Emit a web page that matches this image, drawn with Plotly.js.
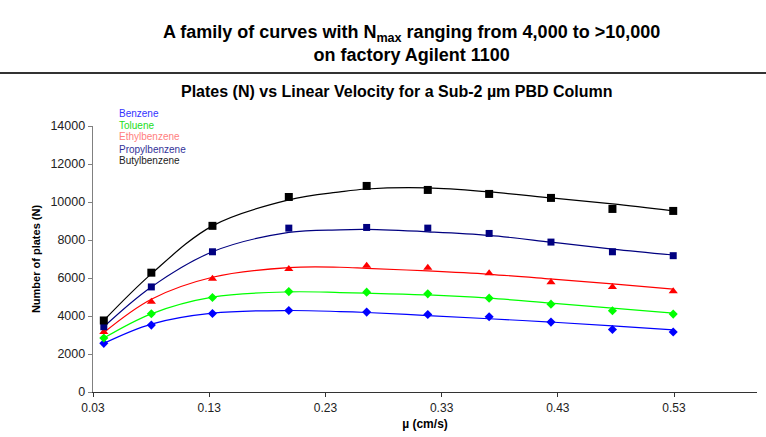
<!DOCTYPE html>
<html>
<head>
<meta charset="utf-8">
<script src="https://cdn.plot.ly/plotly-3.0.1.min.js"></script>
<style>html,body{margin:0;padding:0;background:#fff;}#chart{width:766px;height:437px;}</style>
</head>
<body>
<div id="chart"></div>
<script>
// Linear velocity (cm/s) of the measured points
const velocity = [0.0393, 0.0802, 0.1328, 0.1985, 0.2655, 0.3181, 0.3709, 0.4241, 0.4770, 0.5293];
// Measured plate numbers
const benzene      = [2560, 3520, 4130, 4290, 4205, 4080, 3960, 3680, 3290, 3160];
const toluene      = [2840, 4115, 4970, 5285, 5255, 5165, 4940, 4625, 4275, 4100];
const ethylbenzene = [3155, 4745, 5965, 6475, 6650, 6545, 6250, 5780, 5530, 5305];
const propylbenzene= [3435, 5530, 7380, 8625, 8660, 8625, 8345, 7890, 7380, 7175];
const butylbenzene = [3765, 6280, 8745, 10265, 10845, 10635, 10425, 10215, 9635, 9530];

// Fitted curves
const fitVelocity   = [0.0393, 0.0802, 0.1328, 0.1985, 0.2425, 0.2655, 0.3181, 0.3709, 0.4241, 0.4770, 0.5293];
const benzeneFit    = [2560, 3575, 4150, 4290, 4235, 4185, 4025, 3855, 3680, 3485, 3275];
const tolueneFit    = [2840, 4115, 4990, 5270, 5235, 5200, 5110, 4940, 4675, 4415, 4150];
const ethylFit      = [3130, 4885, 6040, 6545, 6565, 6510, 6370, 6195, 5950, 5690, 5410];
const propylFit     = [3435, 5530, 7380, 8400, 8535, 8555, 8430, 8240, 7890, 7525, 7210];
const butylFit      = [3765, 6215, 8745, 10110, 10530, 10685, 10740, 10530, 10215, 9900, 9530];

const seriesNames = ['Benzene', 'Toluene', 'Ethylbenzene', 'Propylbenzene', 'Butylbenzene'];
const xTickVals = [0.03, 0.13, 0.23, 0.33, 0.43, 0.53];
const xTickText = ['0.03', '0.13', '0.23', '0.33', '0.43', '0.53'];
const yTickVals = [0, 2000, 4000, 6000, 8000, 10000, 12000, 14000];
const yTickText = ['0', '2000', '4000', '6000', '8000', '10000', '12000', '14000'];

const measured = [benzene, toluene, ethylbenzene, propylbenzene, butylbenzene];
const fits = [benzeneFit, tolueneFit, ethylFit, propylFit, butylFit];
const lineColors = ['#0000ff', '#00ff00', '#ff0000', '#000080', '#000000'];
const markerSymbols = ['diamond', 'diamond', 'triangle-up', 'square', 'square'];
const markerSizes = [7, 7, 8, 7, 8];
const legendColors = ['#3333ff', '#22dd22', '#ff8080', '#333399', '#222222'];

const traces = [];
for (let i = 0; i < 5; i++) {
  traces.push({
    x: fitVelocity, y: fits[i], type: 'scatter', mode: 'lines',
    line: {color: lineColors[i], width: 1.2, shape: 'spline', smoothing: 1},
    showlegend: false, hoverinfo: 'skip'
  });
}
for (let i = 0; i < 5; i++) {
  traces.push({
    x: velocity, y: measured[i], type: 'scatter', mode: 'markers', name: seriesNames[i],
    marker: {color: lineColors[i], symbol: markerSymbols[i], size: markerSizes[i], line: {width: 0}},
    showlegend: false
  });
}

const L = 93, R = 9, T = 126, B = 45, W = 766, H = 437;
const pw = W - L - R, ph = H - T - B;
const px = v => (v - L) / pw;
const py = v => (H - B - v) / ph;
const FAM = 'Liberation Sans, Arial, sans-serif';

const annotations = [
  {text: 'A family of curves with N<sub>max</sub> ranging from 4,000 to >10,000<br>on factory Agilent 1100',
   x: px(411), y: py(43), xref: 'paper', yref: 'paper', xanchor: 'center', yanchor: 'middle', align: 'center',
   showarrow: false, font: {family: FAM, size: 18, color: '#000', weight: 'bold'}},
  {text: 'Plates (N) vs Linear Velocity for a Sub-2 µm PBD Column', x: px(397), y: py(92),
   xref: 'paper', yref: 'paper', xanchor: 'center', yanchor: 'middle', showarrow: false,
   font: {family: FAM, size: 16, color: '#000', weight: 'bold'}}
];
const legendY = [113.3, 125, 136.7, 149, 160];
for (let i = 0; i < 5; i++) {
  annotations.push({text: seriesNames[i], x: px(117), y: py(legendY[i]), xref: 'paper', yref: 'paper',
    xanchor: 'left', yanchor: 'middle', showarrow: false,
    font: {family: FAM, size: 10, color: legendColors[i]}});
}

const layout = {
  width: W, height: H,
  margin: {l: L, r: R, t: T, b: B, pad: 0},
  paper_bgcolor: '#fff', plot_bgcolor: '#fff',
  showlegend: false,
  font: {family: FAM, size: 12, color: '#222'},
  xaxis: {
    range: [0.03, 0.6014], tickvals: xTickVals, ticktext: xTickText,
    showgrid: false, zeroline: false, showline: true, linecolor: '#333', linewidth: 1.3,
    ticks: 'outside', ticklen: 4, tickcolor: '#333', tickfont: {family: FAM, size: 12, color: '#222'},
    title: {text: 'µ (cm/s)', standoff: 6, font: {family: FAM, size: 12, color: '#000', weight: 'bold'}}
  },
  yaxis: {
    range: [0, 14000], tickvals: yTickVals, ticktext: yTickText,
    showgrid: false, zeroline: false, showline: true, linecolor: '#808080', linewidth: 1.3,
    ticks: 'outside', ticklen: 4, tickcolor: '#808080', tickfont: {family: FAM, size: 12.5, color: '#222'},
    title: {text: 'Number of plates (N)', standoff: 7, font: {family: FAM, size: 11, color: '#000', weight: 'bold'}}
  },
  annotations: annotations,
  shapes: [
    {type: 'line', xref: 'paper', yref: 'paper', x0: px(0), x1: px(766), y0: py(73), y1: py(73),
     line: {color: '#333', width: 2}}
  ]
};

Plotly.newPlot('chart', traces, layout, {staticPlot: true, displayModeBar: false});
</script>
</body>
</html>
